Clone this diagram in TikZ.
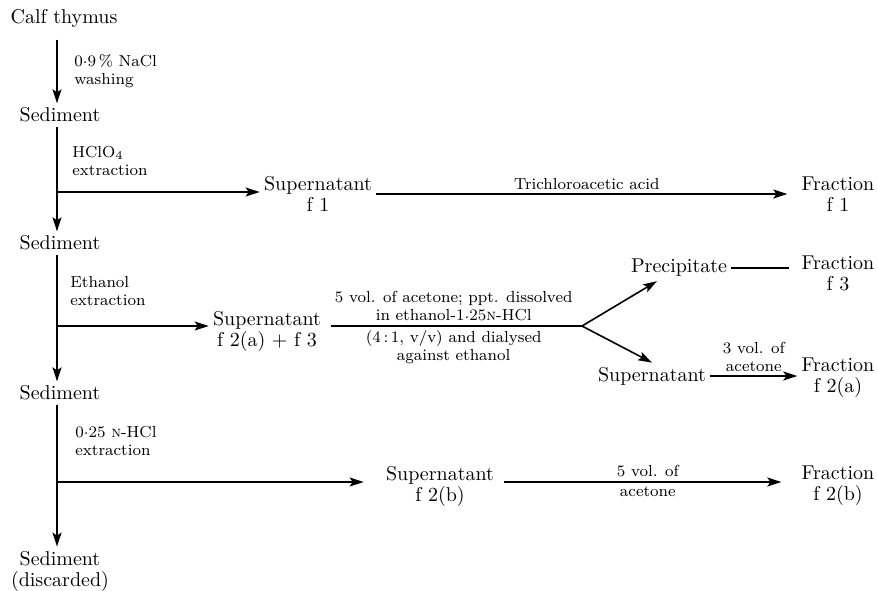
\documentclass[tikz,border=0pt]{standalone}
\usepackage{xcolor}
\usepackage{tikz}
\usetikzlibrary{arrows.meta, positioning}

\newcommand\dotdec{\raisebox{0.4ex}{.}}

\begin{document}
\begin{tikzpicture}[x=0.5pt, y=-0.5pt,
    stage/.style={align=center, inner sep=2pt, font=\fontsize{10}{10.5}\selectfont},
    note/.style={align=center, inner sep=2pt, font=\fontsize{8}{9}\selectfont},
    flow/.style={-{Stealth[length=7pt, width=4.5pt, inset=1.5pt]}, line width=0.8pt},
    link/.style={line width=0.8pt}]
    \useasboundingbox (0,0) rectangle (877,590);

    \node[stage] (thymus) at (64,18) {Calf thymus};
    \node[stage] (sedA) at (60,115) {Sediment};
    \node[stage] (sedB) at (60,243) {Sediment};
    \node[stage] (sedC) at (60,393) {Sediment};
    \node[stage] (sedD) at (60,571) {Sediment\\(discarded)};

    \coordinate (axis) at (57,0);
    \coordinate (jA) at (57,192);
    \coordinate (jB) at (57,326);
    \coordinate (jC) at (57,482);
    \coordinate (fork) at (582,326);

    \node[stage] (supA) at (318,194) {Supernatant\\f 1};
    \node[stage] (supB) at (267,331) {Supernatant\\f 2(a) + f 3};
    \node[stage] (prec) at (679,268) {Precipitate};
    \node[stage] (supC) at (652,376) {Supernatant};
    \node[stage] (supD) at (440,486) {Supernatant\\f 2(b)};

    \node[stage] (fracA) at (838,194) {Fraction\\f 1};
    \node[stage] (fracC) at (838,273) {Fraction\\f 3};
    \node[stage] (fracB) at (838,378) {Fraction\\f 2(a)};
    \node[stage] (fracD) at (838,486) {Fraction\\f 2(b)};

    \node[note, anchor=west, align=left] (washA) at (70,71) {0\dotdec9\,\% NaCl\\washing};
    \node[note, anchor=west, align=left] (extrA) at (68,161) {HClO$_4$\\extraction};
    \node[note, anchor=west, align=left] (extrB) at (66,291) {Ethanol\\extraction};
    \node[note, anchor=west, align=left] (extrC) at (71,441) {0\dotdec25 \textsc{n}-HCl\\extraction};

    % main column
    \draw[flow, shorten <=4pt] (thymus.south -| axis) -- (sedA.north -| axis);
    \draw[flow] (sedA.south -| axis) -- (sedB.north -| axis);
    \draw[flow] (sedB.south -| axis) -- (sedC.north -| axis);
    \draw[flow] (sedC.south -| axis) -- (sedD.north -| axis);

    % side branches
    \draw[flow] (jA) -- (jA -| supA.west);
    \draw[flow] (jB) -- (jB -| supB.west);
    \draw[flow, shorten >=9pt] (jC) -- (jC -| supD.west);

    \draw[flow, shorten >=5pt] (supA) -- (fracA)
        node[note, midway, above] {Trichloroacetic acid};

    \draw[link, shorten <=3pt] (supB.east |- fork) -- (fork)
        node[note, midway, above] {5 vol. of acetone; ppt. dissolved\\in ethanol-1\dotdec25\textsc{n}-HCl}
        node[note, midway, below] {(4\,:\,1, v/v) and dialysed\\against ethanol};
    \draw[flow] (fork) -- (prec);
    \draw[flow] (fork) -- (supC.north);

    \draw[link, shorten >=4pt] (prec.east) -- (prec.east -| fracC.west);
    \draw[flow] (supC.east) -- (supC.east -| fracB.west)
        node[note, midway, above] {3 vol. of\\acetone};

    \draw[flow, shorten <=3pt, shorten >=8pt] (supD.east |- jC) -- (jC -| fracD.west)
        node[note, midway, above] {5 vol. of}
        node[note, midway, below] {acetone};
\end{tikzpicture}
\end{document}
